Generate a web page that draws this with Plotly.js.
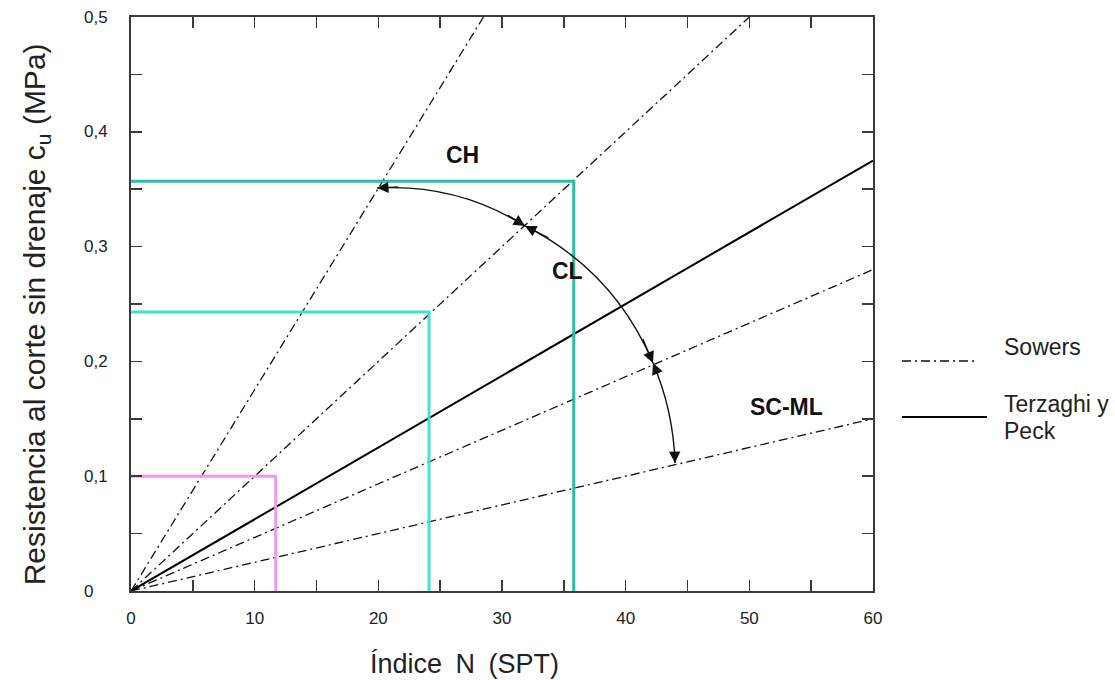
<!DOCTYPE html>
<html>
<head>
<meta charset="utf-8">
<script src="https://cdn.plot.ly/plotly-3.0.1.min.js"></script>
<style>
  html, body { margin: 0; padding: 0; background: #fff; }
  #chart { width: 1115px; height: 680px; }
</style>
</head>
<body>
<div id="chart"></div>
<script>
// Correlations between SPT blow count N and undrained shear strength cu (MPa)
const nTerzaghi = [0, 60];
const cuTerzaghi = [0, 0.375];

const nSowersCH = [0, 28.5];
const cuSowersCH = [0, 0.5];
const nSowersCL = [0, 50];
const cuSowersCL = [0, 0.5];
const nSowersSC = [0, 60];
const cuSowersSC = [0, 0.28];
const nSowersML = [0, 60];
const cuSowersML = [0, 0.15];

// Worked examples: reading cu from N
const nExamplePink = [0, 11.7, 11.7];
const cuExamplePink = [0.1, 0.1, 0];
const nExampleCyan = [0, 24.1, 24.1];
const cuExampleCyan = [0.243, 0.243, 0];
const nExampleTeal = [0, 35.8, 35.8];
const cuExampleTeal = [0.357, 0.357, 0];

// Axis ticks
const xTickVals = [0, 5, 10, 15, 20, 25, 30, 35, 40, 45, 50, 55, 60];
const xTickText = ['0', ' ', '10', ' ', '20', ' ', '30', ' ', '40', ' ', '50', ' ', '60'];
const yTickVals = [0, 0.05, 0.1, 0.15, 0.2, 0.25, 0.3, 0.35, 0.4, 0.45, 0.5];
const yLabelVals = [0, 0.1, 0.2, 0.3, 0.4, 0.5];
const yLabelText = ['0', '0,1', '0,2', '0,3', '0,4', '0,5'];

// Soil-class zone labels
const zoneNames = ['CH', 'CL', 'SC-ML'];
const zoneN = [26.8, 35.3, 53.0];
const zoneCu = [0.380, 0.279, 0.160];

// Sweep arc between the Sowers lines: end points and control points
const arcN = [19.9, 31.86, 42.21, 43.99];
const arcCu = [0.351, 0.318, 0.1986, 0.1115];
const ctrlN = [26.37, 39.08, 43.86];
const ctrlCu = [0.3551, 0.2788, 0.1569];

const FONT = 'Liberation Sans, Arial, Helvetica, sans-serif';
const AXIS_COLOR = '#3a3a3a';
const SOWERS_DASH = '9px,4px,2px,4px';

const sowersLine = (x, y) => ({
  x: x, y: y, type: 'scatter', mode: 'lines', hoverinfo: 'skip', showlegend: false,
  line: { color: '#111', width: 1.3, dash: SOWERS_DASH }
});
const exampleLine = (x, y, color) => ({
  x: x, y: y, type: 'scatter', mode: 'lines', hoverinfo: 'skip', showlegend: false,
  line: { color: color, width: 3 }
});

const traces = [
  sowersLine(nSowersCH, cuSowersCH),
  sowersLine(nSowersCL, cuSowersCL),
  sowersLine(nSowersSC, cuSowersSC),
  sowersLine(nSowersML, cuSowersML),
  { x: nTerzaghi, y: cuTerzaghi, type: 'scatter', mode: 'lines', hoverinfo: 'skip', showlegend: false,
    line: { color: '#000', width: 2 } },
  exampleLine(nExamplePink, cuExamplePink, '#ec9cea'),
  exampleLine(nExampleCyan, cuExampleCyan, '#3fe3cf'),
  exampleLine(nExampleTeal, cuExampleTeal, '#2dbd9f')
];

const shapes = [];
// arc segments (quadratic curves in data space)
for (let i = 0; i < ctrlN.length; i++) {
  shapes.push({
    type: 'path', xref: 'x', yref: 'y', layer: 'above',
    path: `M ${arcN[i]},${arcCu[i]} Q ${ctrlN[i]},${ctrlCu[i]} ${arcN[i + 1]},${arcCu[i + 1]}`,
    line: { color: '#111', width: 1.4 }
  });
}
// legend samples
shapes.push({ type: 'line', xref: 'paper', yref: 'paper', x0: 1.0391, x1: 1.1402, y0: 0.4007, y1: 0.4007,
  line: { color: '#111', width: 1.3, dash: SOWERS_DASH } });
shapes.push({ type: 'line', xref: 'paper', yref: 'paper', x0: 1.0391, x1: 1.1536, y0: 0.3031, y1: 0.3031,
  line: { color: '#000', width: 2 } });

const annotations = [];
// arrowheads at both ends of each arc segment, aligned with the curve tangent
const arrow = (tipN, tipCu, towardN, towardCu) => {
  const k = 0.28;
  annotations.push({
    x: tipN, y: tipCu, xref: 'x', yref: 'y',
    ax: tipN + k * (towardN - tipN), ay: tipCu + k * (towardCu - tipCu), axref: 'x', ayref: 'y',
    text: ' ', showarrow: true, arrowhead: 2, arrowsize: 1.75, arrowwidth: 1.3, arrowcolor: '#111',
    font: { size: 1 }
  });
};
for (let i = 0; i < ctrlN.length; i++) {
  arrow(arcN[i], arcCu[i], ctrlN[i], ctrlCu[i]);
  arrow(arcN[i + 1], arcCu[i + 1], ctrlN[i], ctrlCu[i]);
}

// zone labels
zoneNames.forEach((t, i) => annotations.push({
  x: zoneN[i], y: zoneCu[i], xref: 'x', yref: 'y', text: '<b>' + t + '</b>', showarrow: false,
  font: { family: FONT, size: 23, color: '#111' }
}));

// y tick labels, left aligned
yLabelVals.forEach((v, i) => annotations.push({
  x: -0.0665, y: v, xref: 'paper', yref: 'y', xanchor: 'left', yanchor: 'middle',
  text: yLabelText[i], showarrow: false, font: { family: FONT, size: 17, color: '#222' }
}));

// axis titles
annotations.push({
  x: 0.4488, y: -0.128, xref: 'paper', yref: 'paper', xanchor: 'center', yanchor: 'middle',
  text: 'Índice\u2002N\u2002(SPT)', showarrow: false, font: { family: FONT, size: 27, color: '#222' }
});
annotations.push({
  x: -0.128, y: 0.482, xref: 'paper', yref: 'paper', xanchor: 'center', yanchor: 'middle',
  textangle: -90, text: 'Resistencia al corte sin drenaje c<sub>u</sub> (MPa)', showarrow: false,
  font: { family: FONT, size: 30, color: '#222' }
});

// legend text
const legendFont = { family: FONT, size: 23, color: '#222' };
annotations.push({ x: 1.1739, y: 0.4251, xref: 'paper', yref: 'paper', xanchor: 'left', yanchor: 'middle',
  text: 'Sowers', showarrow: false, font: legendFont });
annotations.push({ x: 1.1739, y: 0.3252, xref: 'paper', yref: 'paper', xanchor: 'left', yanchor: 'middle',
  text: 'Terzaghi y', showarrow: false, font: legendFont });
annotations.push({ x: 1.1739, y: 0.2787, xref: 'paper', yref: 'paper', xanchor: 'left', yanchor: 'middle',
  text: 'Peck', showarrow: false, font: legendFont });

const axisStyle = {
  showgrid: false, zeroline: false, showline: true, linewidth: 2, linecolor: AXIS_COLOR,
  mirror: 'allticks', ticks: 'inside', ticklen: 11, tickwidth: 1.5, tickcolor: AXIS_COLOR,
  fixedrange: true
};

const layout = {
  width: 1115, height: 680,
  margin: { l: 131, r: 242, t: 17, b: 89 },
  paper_bgcolor: '#fff', plot_bgcolor: '#fff',
  showlegend: false,
  xaxis: Object.assign({}, axisStyle, {
    range: [0, 60], tickmode: 'array', tickvals: xTickVals, ticktext: xTickText,
    tickfont: { family: FONT, size: 17, color: '#222' }, ticklabelstandoff: 11
  }),
  yaxis: Object.assign({}, axisStyle, {
    range: [0, 0.5], tickmode: 'array', tickvals: yTickVals, showticklabels: false
  }),
  shapes: shapes,
  annotations: annotations
};

Plotly.newPlot('chart', traces, layout, { displayModeBar: false, staticPlot: true });
</script>
</body>
</html>
